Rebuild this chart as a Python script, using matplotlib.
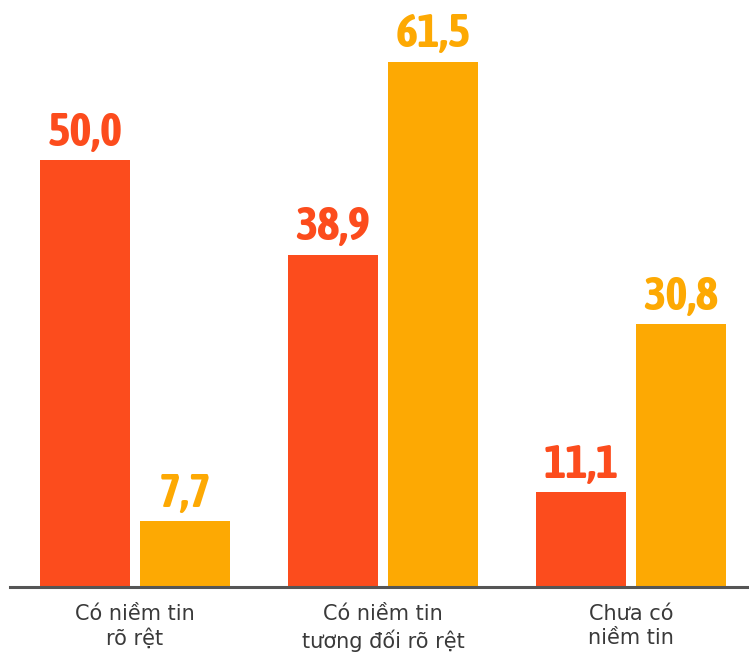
import matplotlib

matplotlib.use("Agg")
import matplotlib.pyplot as plt
import numpy as np
from matplotlib import font_manager

# du lieu doc tu hinh
categories = ["Có niềm tin\nrõ rệt", "Có niềm tin\ntương đối rõ rệt", "Chưa có\nniềm tin"]
series_red = [50.0, 38.9, 11.1]
series_yellow = [7.7, 61.5, 30.8]

RED = "#FC4C1D"
YELLOW = "#FDA903"

# tim font hep (condensed / narrow) neu may co, neu khong dung Roboto
num_font, num_stretch = "Roboto", "normal"
for f in font_manager.fontManager.ttflist:
    if ("Condensed" in f.name or "Narrow" in f.name) and f.weight in ("bold", 700):
        num_font = f.name
        break
else:
    for f in font_manager.fontManager.ttflist:
        if f.stretch == "condensed" and f.weight in ("bold", 700):
            num_font, num_stretch = f.name, "condensed"
            break

fig = plt.figure(figsize=(7.49, 6.53), dpi=100)
ax = fig.add_axes([10 / 749, 66 / 653, 739 / 749, 587 / 653])

x = np.arange(len(categories))
width = 0.363
offset = 0.2016

bars_r = ax.bar(x - offset, series_red, width, color=RED)
bars_y = ax.bar(x + offset, series_yellow, width, color=YELLOW)

# nhan gia tri tren dau cot
for bars, vals, col in [(bars_r, series_red, RED), (bars_y, series_yellow, YELLOW)]:
    for b, v in zip(bars, vals):
        ax.annotate(f"{v:.1f}".replace(".", ","), (b.get_x() + b.get_width() / 2, v),
                    xytext=(0, 3), textcoords="offset points",
                    ha="center", va="bottom", color=col, fontsize=34,
                    fontweight="bold", family=num_font, fontstretch=num_stretch)

ax.set_xlim(-0.504, 2.476)
ax.set_ylim(0, 68.7)

for s in ["top", "right", "left"]:
    ax.spines[s].set_visible(False)
ax.spines["bottom"].set_color("#555555")
ax.spines["bottom"].set_linewidth(2.2)
ax.set_yticks([])
ax.set_xticks(x)
ax.set_xticklabels(categories, fontsize=15, color="#3a3a3a", family="DejaVu Sans", linespacing=1.3)
ax.tick_params(axis="x", length=0, pad=12)

plt.savefig("out.png", dpi=100)
